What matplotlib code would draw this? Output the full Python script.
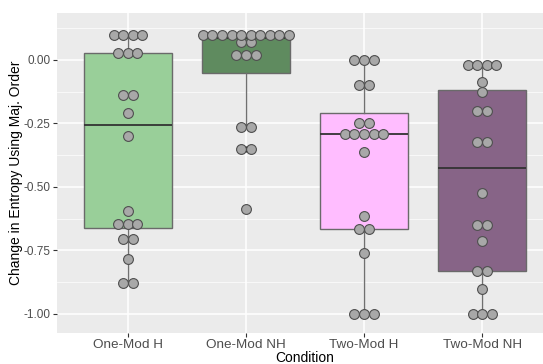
import numpy as np
import matplotlib.pyplot as plt

plt.rcParams['font.family'] = ['Liberation Sans', 'DejaVu Sans']

conditions = ['One-Mod H', 'One-Mod NH', 'Two-Mod H', 'Two-Mod NH']
box_colors = ['#99cf99', '#5f8b5f', '#ffbdff', '#876487']

# change in entropy per trial
one_mod_h = [0.10] * 4 + [0.026] * 3 + [-0.139] * 2 + [-0.21, -0.30, -0.593] \
    + [-0.647] * 3 + [-0.705] * 2 + [-0.782] + [-0.879] * 2
one_mod_nh = [0.10] * 10 + [0.071] * 2 + [0.02] * 3 + [-0.265] * 2 \
    + [-0.352] * 2 + [-0.588]
two_mod_h = [0.0] * 3 + [-0.097] * 2 + [-0.248] * 2 + [-0.293] * 5 \
    + [-0.361, -0.614] + [-0.664] * 2 + [-0.761] + [-1.0] * 3
two_mod_nh = [-0.02] * 4 + [-0.087, -0.127] + [-0.20] * 2 + [-0.323] * 2 \
    + [-0.524] + [-0.651] * 2 + [-0.713] + [-0.829] * 2 + [-0.902] + [-1.0] * 3
groups = [one_mod_h, one_mod_nh, two_mod_h, two_mod_nh]

fig = plt.figure(figsize=(5.43, 3.64), dpi=100)
ax = fig.add_axes([57 / 543, 31 / 364, 496 / 543, 320 / 364])
ax.set_facecolor('#ebebeb')

pos = np.arange(1, 5)
bp = ax.boxplot(groups, positions=pos, widths=0.75, patch_artist=True,
                showcaps=False, whis=1.5,
                flierprops=dict(marker='o', markersize=3, markerfacecolor='black',
                                markeredgecolor='black'),
                medianprops=dict(color='#333333', linewidth=1.3),
                whiskerprops=dict(color='#707070', linewidth=1.0),
                boxprops=dict(edgecolor='#6a6a6a', linewidth=1.0))
for patch, c in zip(bp['boxes'], box_colors):
    patch.set_facecolor(c)

# stacked dots, centred on each category
step = 0.081
for i, vals in enumerate(groups):
    uniq, counts = np.unique(np.round(vals, 3), return_counts=True)
    for v, n in zip(uniq, counts):
        xs = pos[i] + (np.arange(n) - (n - 1) / 2) * step
        ax.scatter(xs, [v] * n, s=50, facecolor='#a8a8a8', edgecolor='#4f4f4f',
                   linewidth=0.8, zorder=4)

ax.set_xlim(0.4, 4.6)
ax.set_ylim(-1.075, 0.185)
ax.set_xticks(pos)
ax.set_xticklabels(conditions)
yt = [0.0, -0.25, -0.5, -0.75, -1.0]
ax.set_yticks(yt)
ax.set_yticklabels(['%.2f' % t for t in yt])
ax.set_yticks([0.125, -0.125, -0.375, -0.625, -0.875], minor=True)
ax.grid(True, which='major', color='white', linewidth=1.1, zorder=0)
ax.grid(True, which='minor', axis='y', color='white', linewidth=0.5, zorder=0)
ax.set_axisbelow(True)
for s in ax.spines.values():
    s.set_visible(False)
ax.tick_params(axis='both', which='major', colors='#333333', length=3,
               labelcolor='#4d4d4d', width=0.8)
ax.tick_params(axis='x', labelsize=9.7, pad=1)
ax.tick_params(axis='y', labelsize=8.5, pad=1.5)
ax.tick_params(axis='both', which='minor', length=0)
ax.set_xlabel('Condition', fontsize=10, labelpad=0)
ax.set_ylabel('Change in Entropy Using Maj. Order', fontsize=10, labelpad=0.5)

fig.savefig('out.png', dpi=100)
